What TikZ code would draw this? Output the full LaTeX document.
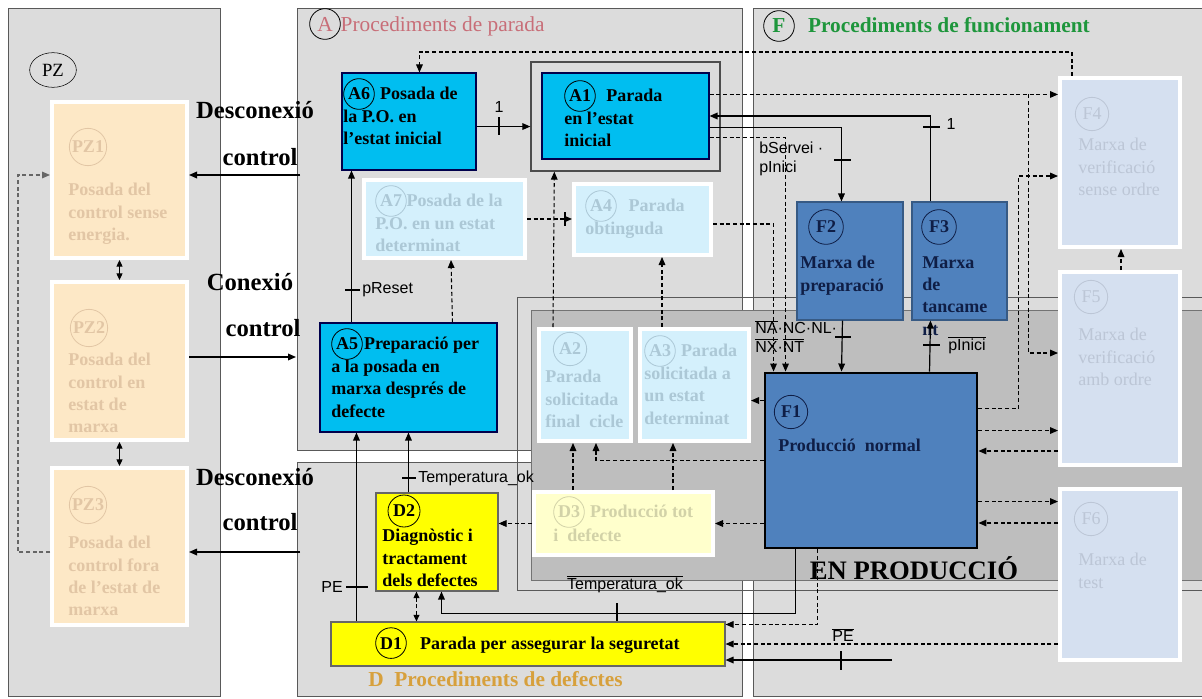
\documentclass[tikz,border=0pt]{standalone}
\usepackage{fontspec}
\setmainfont{Liberation Serif}
\setsansfont{Liberation Sans}
\usetikzlibrary{arrows.meta,fit,calc,shapes.geometric}

\definecolor{panelgray}{RGB}{220,220,220}
\definecolor{prodgray}{RGB}{190,190,190}
\definecolor{cyanbox}{RGB}{0,190,240}
\definecolor{fblue}{RGB}{79,129,189}
\definecolor{fnavy}{RGB}{15,30,70}
\definecolor{fadecyan}{RGB}{212,240,252}
\definecolor{fadecyantxt}{RGB}{172,200,214}
\definecolor{fadeblue}{RGB}{213,224,240}
\definecolor{fadebluetxt}{RGB}{188,198,214}
\definecolor{fadeorange}{RGB}{253,232,198}
\definecolor{fadeorangetxt}{RGB}{226,198,165}
\definecolor{fadeyellow}{RGB}{255,255,204}
\definecolor{fadeyellowtxt}{RGB}{210,210,168}
\definecolor{yellowbox}{RGB}{255,255,0}
\definecolor{titlegreen}{RGB}{30,150,60}
\definecolor{titlerose}{RGB}{200,110,120}
\definecolor{titleorange}{RGB}{215,160,60}

% circled code inside a line of text
\newcommand\enc[2][black]{\tikz[baseline=(e.base)]\node[draw=#1,circle,inner sep=0.5pt,minimum size=23pt,line width=0.6pt,anchor=center](e){#2};}

\tikzset{
  panel/.style={draw=black!65,fill=panelgray,line width=0.6pt},
  abox/.style={draw=blue!30!black,fill=cyanbox,line width=0.8pt,inner sep=0pt},
  fbox/.style={draw=fblue!70!black,fill=fblue,line width=0.8pt,inner sep=0pt},
  dbox/.style={draw=black!60,fill=yellowbox,line width=0.8pt,inner sep=0pt},
  fadebox/.style={draw=white,line width=3pt,inner sep=0pt,fill=#1},
  btxt/.style={font=\bfseries\fontsize{13.5}{16.8}\selectfont,inner sep=0pt,align=left,anchor=north west},
  rtxt/.style={font=\fontsize{13.5}{16.8}\selectfont,inner sep=0pt,align=left,anchor=north west},
  encl/.style={draw=#1,circle,inner sep=0pt,line width=0.6pt},
  lbl/.style={font=\sffamily\fontsize{12}{14}\selectfont,inner sep=0pt},
  bigtxt/.style={font=\bfseries\fontsize{18.5}{20}\selectfont,inner sep=0pt},
  arr/.style={line width=0.9pt,-{Triangle[length=6pt,width=5pt]}},
  arrb/.style={line width=0.9pt,{Triangle[length=5pt,width=4.5pt]}-{Triangle[length=5pt,width=4.5pt]}},
  dsh/.style={line width=0.8pt,dash pattern=on 3pt off 2pt},
  darr/.style={dsh,-{Triangle[length=6pt,width=5pt]}},
  darrb/.style={dsh,{Triangle[length=5pt,width=4.5pt]}-{Triangle[length=5pt,width=4.5pt]}},
  tk/.style={line width=0.9pt},
}

\begin{document}
\begin{tikzpicture}[x=0.75pt,y=-0.75pt]
\useasboundingbox (0,0) rectangle (1202,699);
% zones
\draw[panel] (8,8) rectangle (220,696);
\draw[panel] (297,8) rectangle (742,450);
\draw[panel] (297,462) rectangle (742,696);
\draw[panel] (753,8) rectangle (1212,696);
% en produccio
\draw[black!65,line width=0.6pt] (517,297) rectangle (1212,590);
\draw[black!55,fill=prodgray] (531,310) rectangle (1212,580);

% titles
\node[draw,ellipse,minimum width=35pt,minimum height=26pt,inner sep=0pt,font=\fontsize{14}{16}\selectfont] (pzname) at (53,70) {PZ};
\node[anchor=west,inner sep=0pt,text=titlerose,font=\fontsize{16}{18}\selectfont] (aname) at (309,24) {\enc{A}Procediments de parada};
\node[anchor=west,inner sep=0pt,text=titlegreen,font=\bfseries\fontsize{16}{18}\selectfont] (fname) at (763,26) {\enc{F}\hspace{10pt}Procediments de funcionament};
\node[anchor=base west,inner sep=0pt,text=titleorange,font=\bfseries\fontsize{16}{18}\selectfont] (dname) at (368,686) {D\ \ Procediments de defectes};
\node[anchor=base,inner sep=0pt,font=\bfseries\fontsize{20}{22}\selectfont] (enprod) at (914,579) {EN PRODUCCIÓ};

% PZ boxes
\node[fadebox=fadeorange,fit={(52,102)(187,258)}] (PZ1) {};
\node[fadebox=fadeorange,fit={(52,282)(187,440)}] (PZ2) {};
\node[fadebox=fadeorange,fit={(52,468)(187,625)}] (PZ3) {};
\node[encl=fadeorangetxt,minimum size=28pt,text=fadeorangetxt,font=\bfseries\fontsize{13.5}{16}\selectfont] (PZ1c) at (88,147) {PZ1};
\node[encl=fadeorangetxt,minimum size=28pt,text=fadeorangetxt,font=\bfseries\fontsize{13.5}{16}\selectfont] (PZ2c) at (89,328) {PZ2};
\node[encl=fadeorangetxt,minimum size=28pt,text=fadeorangetxt,font=\bfseries\fontsize{13.5}{16}\selectfont] (PZ3c) at (88,505) {PZ3};
\node[btxt,text=fadeorangetxt] (PZ1t) at (68,183) {Posada del\\control sense\\energia.};
\node[btxt,text=fadeorangetxt] (PZ2t) at (68,353) {Posada del\\control en\\estat de\\marxa};
\node[btxt,text=fadeorangetxt] (PZ3t) at (68,536) {Posada del\\control fora\\de l'estat de\\marxa};

% connexio / desconnexio
\node[bigtxt] (desc1) at (255,110) {Desconexió};
\node[bigtxt] (ctrl1) at (260,157) {control};
\node[bigtxt] (conx2) at (250,282) {Conexió};
\node[bigtxt] (ctrl2) at (263,328) {control};
\node[bigtxt] (desc3) at (255,477) {Desconexió};
\node[bigtxt] (ctrl3) at (260,522) {control};

% A: procediments de parada
\node[abox,fit={(342,73)(476,170)}] (A6) {};
\node[btxt] (A6t) at (343,78) {\enc{A6}\hspace{4pt}Posada de\\la P.O. en\\l'estat inicial};
\node[draw=black!70,line width=1pt,inner sep=0pt,fit={(531,62)(720,171)}] (A1f) {};
\node[abox,fit={(542,73)(709,159)}] (A1) {};
\node[btxt] (A1t) at (564,80) {\enc{A1}\hspace{8pt}Parada\\en l'estat\\inicial};
\node[fadebox=fadecyan,fit={(364,180)(525,258)}] (A7) {};
\node[btxt,text=fadecyantxt] (A7t) at (375,185) {\enc[fadecyantxt]{A7}Posada de la\\P.O. en un estat\\determinat};
\node[fadebox=fadecyan,fit={(574,184)(711,255)}] (A4) {};
\node[btxt,text=fadecyantxt] (A4t) at (585,190) {\enc[fadecyantxt]{A4}\hspace{9pt}Parada\\obtinguda};
\node[abox,fit={(320,323)(497,432)}] (A5) {};
\node[btxt] (A5t) at (331,328) {\enc{A5}\hspace{1pt}Preparació per\\a la posada en\\marxa després de\\defecte};
\node[fadebox=fadecyan,fit={(539,329)(631,441)}] (A2) {};
\node[encl=fadecyantxt,minimum size=25pt,text=fadecyantxt,font=\bfseries\fontsize{13.5}{16}\selectfont] (A2c) at (570,349) {A2};
\node[btxt,text=fadecyantxt] (A2t) at (545,370) {Parada\\solicitada\\final\ \ cicle};
\node[fadebox=fadecyan,fit={(640,329)(749,441)}] (A3) {};
\node[btxt,text=fadecyantxt] (A3t) at (644,335) {\enc[fadecyantxt]{A3}\hspace{4pt}Parada\\solicitada a\\un estat\\determinat};

% D: procediments de defectes
\node[dbox,fit={(376,493)(498,591)}] (D2) {};
\node[encl=black,minimum size=24pt,font=\bfseries\fontsize{13.5}{16}\selectfont] (D2c) at (404,511) {D2};
\node[btxt] (D2t) at (382,529) {Diagnòstic i\\tractament\\dels defectes};
\node[fadebox=fadeyellow,fit={(534,492)(713,555)}] (D3) {};
\node[btxt,text=fadeyellowtxt] (D3t) at (553,496) {\enc[fadeyellowtxt]{D3}\hspace{4pt}Producció tot\\i\ \ defecte};
\node[dbox,fit={(331,622)(725,666)}] (D1) {};
\node[btxt,anchor=base west] (D1t) at (375,649) {\enc{D1}\hspace{10pt}Parada per assegurar la seguretat};

% F: procediments de funcionament
\node[fbox,fit={(797,202)(903,320)}] (F2) {};
\node[encl=fnavy,minimum size=26pt,text=fnavy,font=\bfseries\fontsize{13.5}{16}\selectfont] (F2c) at (826,227) {F2};
\node[btxt,text=fnavy] (F2t) at (800,256) {Marxa de\\preparació};
\node[fbox,fit={(912,202)(1007,320)}] (F3) {};
\node[encl=fnavy,minimum size=26pt,text=fnavy,font=\bfseries\fontsize{13.5}{16}\selectfont] (F3c) at (939,227) {F3};
\node[btxt,text=fnavy] (F3t) at (922,256) {Marxa\\de\\tancame\\nt};
\node[fill=fblue,draw=black,line width=2.2pt,inner sep=0pt,fit={(765,373)(977,548)}] (F1) {};
\node[encl=fnavy,minimum size=25pt,text=fnavy,font=\bfseries\fontsize{13.5}{16}\selectfont] (F1c) at (791,412) {F1};
\node[btxt,text=fnavy,anchor=base west] (F1t) at (778,451) {Producció\ \ normal};
\node[fadebox=fadeblue,fit={(1060,78)(1180,247)}] (F4) {};
\node[encl=fadebluetxt,minimum size=25pt,text=fadebluetxt,font=\fontsize{13.5}{16}\selectfont] (F4c) at (1092,114) {F4};
\node[rtxt,text=fadebluetxt] (F4t) at (1078,138) {Marxa de\\verificació\\sense ordre};
\node[fadebox=fadeblue,fit={(1060,272)(1180,465)}] (F5) {};
\node[encl=fadebluetxt,minimum size=25pt,text=fadebluetxt,font=\fontsize{13.5}{16}\selectfont] (F5c) at (1091,297) {F5};
\node[rtxt,text=fadebluetxt] (F5t) at (1078,328) {Marxa de\\verificació\\amb ordre};
\node[fadebox=fadeblue,fit={(1060,489)(1180,660)}] (F6) {};
\node[encl=fadebluetxt,minimum size=25pt,text=fadebluetxt,font=\fontsize{13.5}{16}\selectfont] (F6c) at (1091,519) {F6};
\node[rtxt,text=fadebluetxt] (F6t) at (1078,553) {Marxa de\\test};

% helper points
\coordinate (disc1) at (300,175);
\coordinate (conn2) at (296,357);
\coordinate (disc3) at (300,552);
\coordinate (pein) at (892,660);
\coordinate (a6a1) at ($(A6.south east)+(0,-44)$);
\coordinate (a1f4) at ($(A1.north east)+(0,22)$);
\coordinate (f1a3) at ($(F1.north west)+(0,29)$);
\coordinate (f1f5) at ($(F1.north east)+(0,59)$);
\coordinate (f5f1) at ($(F5.north west)+(0,181)$);
\coordinate (f1f6) at ($(F1.north east)+(0,130)$);
\coordinate (f6f1) at ($(F6.north west)+(0,36)$);

% PZ connections
\draw[arr] (disc1) -- (disc1 -| PZ1.east);
\draw[arr] (conn2 -| PZ2.east) -- (conn2);
\draw[arr] (disc3) -- (disc3 -| PZ3.east);
\draw[arrb] (PZ1.south) -- (PZ2.north);
\draw[arrb] (PZ2.south) -- (PZ3.north);
\draw[darr,black!60] (PZ3.west |- disc3) -- ++(-32,0) |- (PZ1.west |- disc1);

% A connections
\draw[arr] (a6a1) -- (a6a1 -| A1f.west);
\draw[tk] (499,117) -- (499,135);
\node[lbl] (one1) at (499,107) {1};
\draw[arr] ($(A5.north west)+(32,0)$) -- ($(A6.south west)+(10,0)$);
\draw[tk] (345,290) -- (360,290);
\node[lbl,anchor=west] (preset) at (362,290) {pReset};
\draw[darr] (A7.east) -- (A7.east -| A4.west);
\draw[tk] (565,212) -- (565,226);
\draw[darr] ($(A5.north west)+(133,0)$) -- ($(A7.south west)+(89,0)$);
\draw[darr] ($(A2.north west)+(16,0)$) -- ($(A1f.south west)+(24,0)$);
\draw[darr] ($(A3.north west)+(24,0)$) -- ($(A4.south west)+(90,0)$);
\draw[darr] ($(F4.north west)+(14,0)$) -- ($(F4.north west)+(14,-24)$) -| ($(A6.north west)+(78,0)$);

% D connections
\draw[arr] ($(D1.north west)+(26,0)$) -- ($(A5.south west)+(37,0)$);
\draw[tk] (346,587) -- (368,587);
\node[lbl,anchor=east] (pe1) at (343,587) {PE};
\draw[arr] ($(D2.north west)+(33,0)$) -- ($(A5.south west)+(89,0)$);
\draw[tk] (402,478) -- (416,478);
\node[lbl,anchor=west] (tok1) at (418,478) {Temperatura\_ok};
\draw[darrb] ($(D1.north west)+(86,0)$) -- ($(D2.south west)+(41,0)$);
\draw[arr] ($(F1.south west)+(32,0)$) -- ($(F1.south west)+(32,64)$) -| ($(D2.south west)+(66,0)$);
\draw[tk] (617,603) -- (617,621);
\node[lbl] (tok2) at (625,584) {$\overline{\hbox{Temperatura\_ok}}$};
\draw[darr] ($(F1.south west)+(54,0)$) |- ($(D1.north east)+(0,3)$);
\draw[darr] (F6.west |- D1.east) -- (D1.east);
\node[lbl] (pe2) at (843,635) {$\overline{\hbox{PE}}$};
\draw[arr] (pein) -- (pein -| D1.east);
\draw[tk] (841,651) -- (841,670);
\draw[darr] (D3.west) -- (D3.west -| D2.east);
\draw[darr] (F1.west |- D3.east) -- (D3.east);
\draw[darr] ($(D3.north west)+(41,0)$) -- ($(A2.south west)+(36,0)$);
\draw[darr] ($(D3.north west)+(141,0)$) -- ($(A3.south west)+(35,0)$);

% F connections
\draw[darr] ($(F1.north west)+(0,89)$) -| ($(A2.south west)+(59,0)$);
\draw[darr] (f1a3) -- (f1a3 -| A3.east);
\draw[darr] (a1f4) -- (a1f4 -| F4.west);
\draw[darr] ($(a1f4)+(319,0)$) |- ($(F5.north west)+(0,83)$);
\draw[darr] ($(F1.north east)+(0,37)$) -- ++(40,0) |- ($(F4.north west)+(0,100)$);
\draw[darr] ($(F5.north west)+(63,0)$) -- ($(F4.south west)+(63,0)$);
\draw[darr] (f1f5) -- (f1f5 -| F5.west);
\draw[darr] (f5f1) -- (f5f1 -| F1.east);
\draw[darr] (f1f6) -- (f1f6 -| F6.west);
\draw[darr] (f6f1) -- (f6f1 -| F1.east);
\draw[darr] ($(A1.south east)+(0,-22)$) -| ($(F1.north west)+(22,0)$);
\draw[darr] ($(A4.north east)+(0,42)$) -| ($(F1.north west)+(10,0)$);
\draw[arr] ($(A1.south east)+(0,-32)$) -| ($(F2.north west)+(45,0)$);
\draw[tk] (834,160) -- (851,160);
\node[lbl,anchor=north west,align=left] (bserv) at (759,142) {bServei ·\\pInici};
\draw[arr] ($(F3.north west)+(19,0)$) |- (A1.east);
\draw[tk] (923,127) -- (940,127);
\node[lbl] (one2) at (951,124) {1};
\draw[arr] ($(F2.south west)+(46,0)$) -- ($(F1.north west)+(78,0)$);
\draw[tk] (835,337) -- (851,337);
\node[lbl,anchor=north west,align=left] (nanc) at (755,320) {$\overline{\hbox{NA}}$·NC·NL·\\$\overline{\hbox{NX}}$·$\overline{\hbox{NT}}$};
\draw[arr] ($(F1.north west)+(166,0)$) -- ($(F3.south west)+(19,0)$);
\draw[tk] (923,345) -- (940,345);
\node[lbl,anchor=west] (pinici) at (948,345) {$\overline{\hbox{pInici}}$};
\end{tikzpicture}
\end{document}
